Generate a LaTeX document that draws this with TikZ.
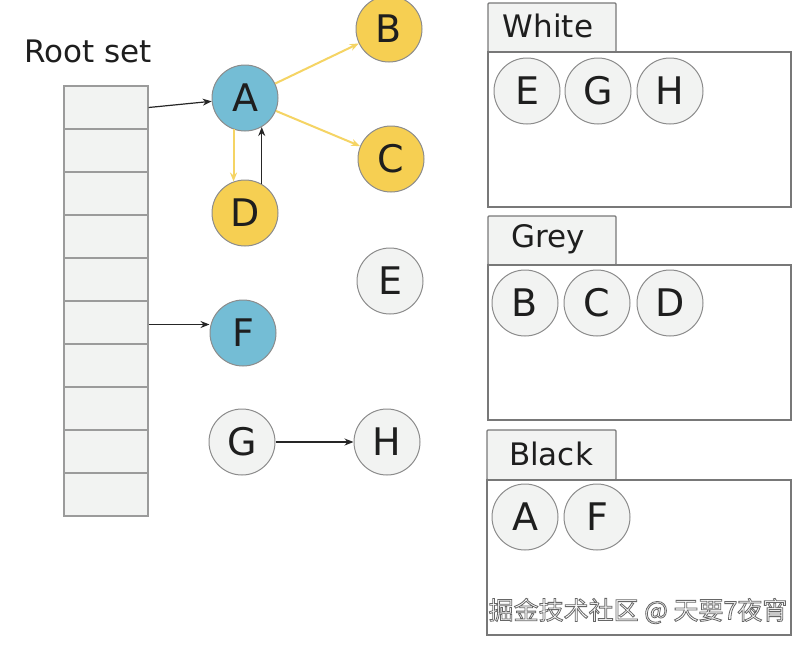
\documentclass[tikz,border=0pt]{standalone}
\usepackage{fontspec}
\setmainfont{DejaVu Sans}
\newfontfamily\cjk{Noto Sans CJK SC}
\usetikzlibrary{arrows.meta}
\definecolor{nodeblue}{RGB}{116,189,213}
\definecolor{nodeyellow}{RGB}{246,207,82}
\definecolor{nodegrey}{RGB}{242,243,242}
\definecolor{edgegrey}{RGB}{140,140,140}
\definecolor{arrowyellow}{RGB}{245,212,100}
\definecolor{cellfill}{RGB}{242,243,242}
\definecolor{cellline}{RGB}{155,155,155}
\definecolor{boxline}{RGB}{120,120,120}
\definecolor{textdark}{RGB}{30,30,30}
\newcommand{\outlinetext}[1]{\special{pdf:code q 2 Tr 0.8 w 0.4 G}#1\special{pdf:code Q}}
\tikzset{
  obj/.style={circle, draw=edgegrey, line width=1pt, minimum size=66pt, inner sep=0pt,
    font=\fontsize{38}{40}\selectfont, text=textdark},
  blueobj/.style={obj, fill=nodeblue},
  yellowobj/.style={obj, fill=nodeyellow},
  greyobj/.style={obj, fill=nodegrey},
  cell/.style={draw=cellline, fill=cellfill, line width=1.2pt, minimum width=84pt, minimum height=43pt, inner sep=0pt},
  tab/.style={draw=boxline, fill=nodegrey, line width=1.2pt, rounded corners=1pt},
  setbox/.style={draw=boxline, fill=white, line width=1.5pt},
  lbl/.style={font=\fontsize{31}{33}\selectfont, text=textdark},
  darrow/.style={draw=black!85, line width=1.2pt, -{Stealth[length=9pt,width=7pt]}},
  yarrow/.style={draw=arrowyellow, line width=2pt, -{Stealth[length=9pt,width=7pt]}},
}
\begin{document}
\begin{tikzpicture}[x=1pt,y=-1pt]
\useasboundingbox (0,0) rectangle (808,646);
\fill[white] (0,0) rectangle (808,646);

% Root set
\node[lbl] (rootlbl) at (88,51) {Root set};
\foreach \i in {1,...,10} {
  \node[cell] (r\i) at (106, {86+43*(\i-1)+21.5}) {};
}

% Graph objects
\node[blueobj] (A) at (245,98) {A};
\node[yellowobj] (B) at (389,29) {B};
\node[yellowobj] (C) at (391,159) {C};
\node[yellowobj] (D) at (245,213) {D};
\node[greyobj] (E) at (390,281) {E};
\node[blueobj] (F) at (243,333) {F};
\node[greyobj] (G) at (242,442) {G};
\node[greyobj] (H) at (387,442) {H};

% Connectors
\draw[darrow] (r1.east) -- (A);
\draw[darrow] (r6.east) ++(0,2) coordinate (f0) -- (F.west |- f0);
\draw[yarrow] (A) -- (B);
\draw[yarrow] (A) -- (C);
\draw[yarrow] (A.250) -- (D.110);
\draw[darrow] (D.60) -- (A.300);
\draw[darrow] (G) -- (H);

% White set
\draw[tab] (488,52) rectangle (616,3);
\node[lbl] (wlbl) at (548,26) {White};
\draw[setbox] (488,52) rectangle (791,207);
\node[greyobj] (wE) at (527,91) {E};
\node[greyobj] (wG) at (598,91) {G};
\node[greyobj] (wH) at (670,91) {H};

% Grey set
\draw[tab] (488,265) rectangle (616,216);
\node[lbl] (glbl) at (548,239) {Grey};
\draw[setbox] (488,265) rectangle (791,420);
\node[greyobj] (gB) at (525,303) {B};
\node[greyobj] (gC) at (597,303) {C};
\node[greyobj] (gD) at (670,303) {D};

% Black set
\draw[tab] (487,480) rectangle (616,430);
\node[lbl] (blbl) at (551,454) {Black};
\draw[setbox] (487,480) rectangle (791,635);
\node[greyobj] (bA) at (525,517) {A};
\node[greyobj] (bF) at (597,517) {F};

% Watermark
\node[font=\cjk\fontsize{25}{27}\selectfont, text=white, inner sep=0pt] (wm) at (638,611) {\outlinetext{掘金技术社区 @ 天要7夜宵}};
\end{tikzpicture}
\end{document}
